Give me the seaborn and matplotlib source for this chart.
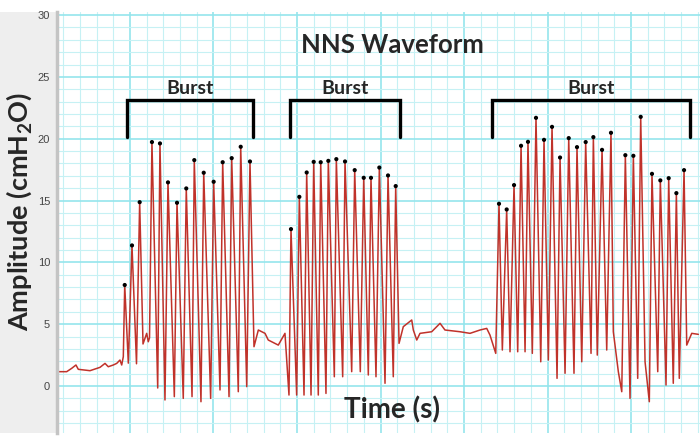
import numpy as np
import matplotlib
matplotlib.use("Agg")
import matplotlib.pyplot as plt
from matplotlib.ticker import MultipleLocator
from matplotlib.patches import Rectangle
import seaborn as sns
import pandas as pd

# waveform vertices (time in s, amplitude in cmH2O)
wave_t = [
    0.141, 0.242, 0.302, 0.353, 0.381, 0.521, 0.641, 0.701, 0.740, 0.800, 0.841, 0.880, 0.901, 0.920,
    0.937, 0.980, 1.024, 1.078, 1.116, 1.156, 1.200, 1.219, 1.234,
    1.263, 1.332, 1.359, 1.419, 1.455, 1.531, 1.563, 1.638, 1.674, 1.743, 1.770, 1.850,
    1.883, 1.966, 2.002, 2.078, 2.110, 2.186, 2.218, 2.297, 2.326, 2.398, 2.437,
    2.485, 2.537, 2.617, 2.656, 2.776, 2.856,
    2.904, 2.928, 2.996, 3.028, 3.084, 3.116, 3.168, 3.200, 3.255, 3.284, 3.347, 3.375,
    3.447, 3.471, 3.547, 3.575, 3.655, 3.691, 3.758, 3.799, 3.854, 3.886, 3.946, 3.986,
    4.054, 4.090, 4.153, 4.182,
    4.222, 4.273, 4.374, 4.393, 4.434, 4.473, 4.613, 4.713, 4.772, 4.952, 5.072, 5.192, 5.272, 5.311, 5.380,
    5.419, 5.459, 5.511, 5.551, 5.599, 5.643, 5.683, 5.731, 5.766, 5.818, 5.862, 5.919,
    5.958, 6.010, 6.054, 6.114, 6.150, 6.210, 6.254, 6.317, 6.353, 6.410, 6.457, 6.521,
    6.549, 6.596, 6.653, 6.709, 6.760, 6.788, 6.848, 6.889, 6.932, 6.988, 7.028, 7.080,
    7.116, 7.168, 7.219, 7.251, 7.320, 7.351, 7.419, 7.451, 7.506, 7.543, 7.578, 7.635,
    7.667, 7.727, 7.806,
]
wave_amp = [
    1.16, 1.16, 1.43, 1.70, 1.35, 1.24, 1.51, 1.83, 1.56, 1.70, 1.83, 2.10, 1.70, 2.37,
    8.17, 1.85, 11.37, 1.80, 14.87, 3.40, 4.26, 3.58, 3.90,
    19.73, -0.16, 19.62, -1.13, 16.47, -0.86, 14.82, -1.00, 15.98, -0.86, 18.27, -1.27,
    17.25, -1.00, 16.52, -0.32, 18.10, -0.86, 18.43, -0.46, 19.35, -0.05, 18.16,
    3.18, 4.53, 4.26, 3.72, 3.31, 4.26,
    -0.73, 12.69, -0.73, 15.30, -0.73, 17.27, -0.73, 18.13, -0.73, 18.10, -0.60, 18.21,
    0.75, 18.35, 0.75, 18.16, 1.16, 17.46, 1.16, 16.84, 0.89, 16.84, 0.75, 17.67,
    0.22, 17.03, 0.75, 16.17,
    3.45, 4.80, 5.34, 4.53, 3.72, 4.26, 4.39, 5.07, 4.53, 4.39, 4.26, 4.53, 4.66, 4.12, 2.64,
    14.74, 2.91, 14.28, 2.77, 16.25, 2.77, 19.43, 2.77, 19.75, 2.64, 21.69, 1.96,
    19.91, 2.10, 20.96, 0.62, 18.48, 1.03, 20.05, 1.03, 19.32, 1.96, 19.73, 2.64,
    20.13, 2.50, 19.10, 2.91, 20.48, 4.39, 1.16, -0.46, 18.67, -1.00, 18.62, 0.62,
    21.77, 1.96, -1.27, 17.16, 1.16, 16.63, 0.08, 16.81, 0.22, 15.60, 0.62, 17.46,
    3.31, 4.26, 4.18,
]

burst_labels = ["Burst", "Burst", "Burst"]
burst_start = [0.964, 2.916, 5.335]
burst_end = [2.473, 4.234, 7.707]

df = pd.DataFrame({"t": wave_t, "amp": wave_amp})
amp = df["amp"].to_numpy()
is_peak = np.zeros(len(amp), dtype=bool)
is_peak[1:-1] = (amp[1:-1] > amp[:-2]) & (amp[1:-1] > amp[2:]) & (amp[1:-1] > 7)
peaks = df[is_peak]

sns.set_style("white")
plt.rcParams["font.family"] = ["Lato", "DejaVu Sans"]
plt.rcParams["mathtext.fontset"] = "custom"
plt.rcParams["mathtext.bf"] = "Lato:bold"

fig = plt.figure(figsize=(7, 4.45), dpi=100)
# grey strip behind the y axis
fig.patches.append(Rectangle((0, 12 / 445), 57 / 700, 421 / 445, transform=fig.transFigure,
                             facecolor="#eeeeee", edgecolor="none", zorder=-5))
ax = fig.add_axes([57 / 700, 12 / 445, 643 / 700, 421 / 445])

ax.xaxis.set_major_locator(MultipleLocator(1))
ax.xaxis.set_minor_locator(MultipleLocator(0.2))
ax.yaxis.set_major_locator(MultipleLocator(5))
ax.yaxis.set_minor_locator(MultipleLocator(1))
ax.grid(which="minor", color="#c6f1f4", lw=0.8)
ax.grid(which="major", color="#95e5ec", lw=1.2)
ax.set_axisbelow(True)

sns.lineplot(data=df, x="t", y="amp", sort=False, estimator=None, color="#c0322a", lw=1.1, ax=ax)
sns.scatterplot(data=peaks, x="t", y="amp", color="black", s=9, edgecolor="none", zorder=5, ax=ax)

# burst brackets
for lab, a, b in zip(burst_labels, burst_start, burst_end):
    ax.plot([a, a, b, b], [20.1, 23.1, 23.1, 20.1], color="black", lw=2.4, solid_joinstyle="miter")
    ax.text((a + b) / 2, 24.1, lab, ha="center", va="center", fontsize=14, fontweight="bold")

ax.text(4.14, 27.6, "NNS Waveform", ha="center", va="center", fontsize=18.5, fontweight="bold")
ax.text(4.14, -1.94, "Time (s)", ha="center", va="center", fontsize=20, fontweight="bold")
fig.text(0.027, 0.525, r"Amplitude (cmH$_\mathbf{2}$O)", rotation=90, ha="center", va="center",
         fontsize=19.5, fontweight="bold")

ax.set_xlim(0.126, 7.826)
ax.set_ylim(-3.8, 30.25)
ax.set_xlabel("")
ax.set_ylabel("")
ax.tick_params(axis="x", which="both", length=0, labelbottom=False)
ax.tick_params(axis="y", which="major", length=3, color="#777777", labelsize=8, labelcolor="#444444", pad=2)
ax.tick_params(axis="y", which="minor", length=0)
for lbl in ax.get_yticklabels():
    lbl.set_family(["Liberation Sans"])
for s in ["top", "right", "bottom"]:
    ax.spines[s].set_visible(False)
ax.spines["left"].set_color("#c4c4c4")
ax.spines["left"].set_linewidth(2.5)

fig.savefig("out.png", dpi=100)
